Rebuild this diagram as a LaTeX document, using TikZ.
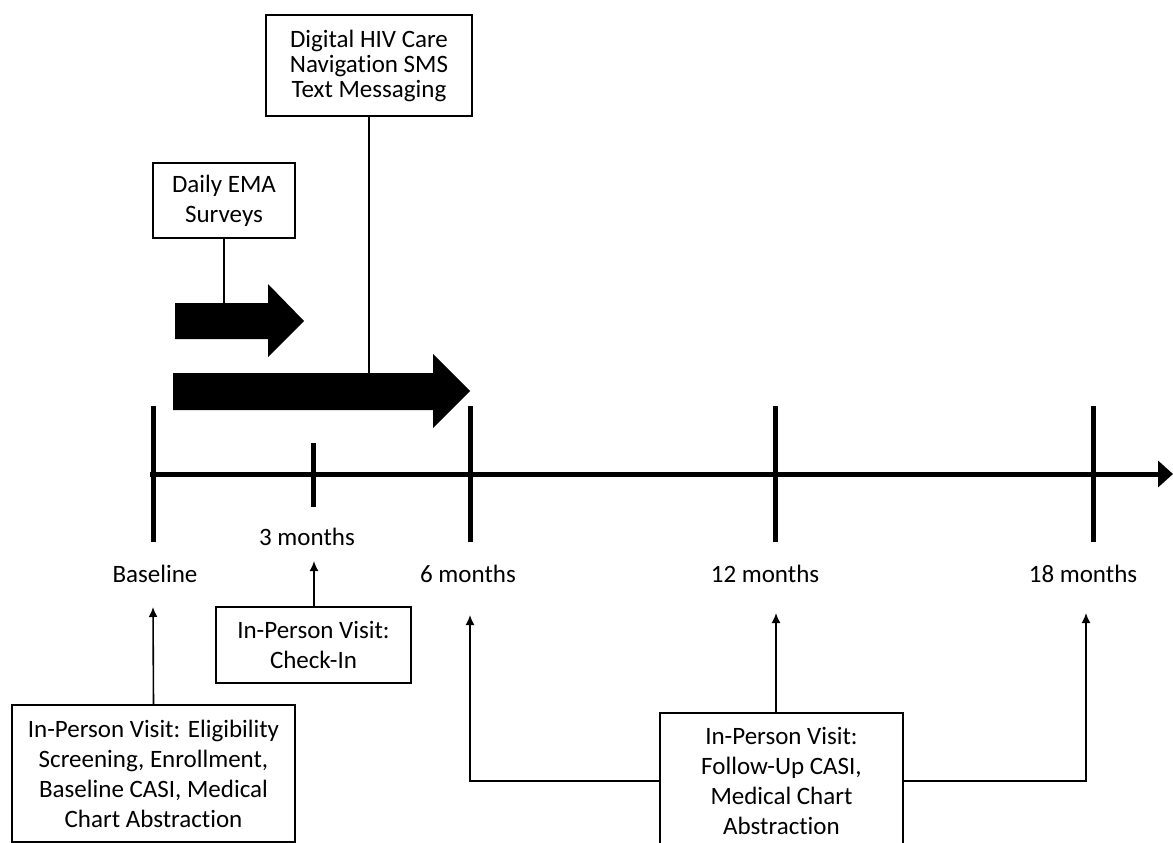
\documentclass[tikz,border=0pt]{standalone}
\usepackage{fontspec}
\setmainfont{Carlito}[Ligatures=NoCommon]
\usetikzlibrary{arrows.meta}
\tikzset{
  box/.style={draw=black, line width=1.5pt, inner sep=0pt, align=center, font=\fontsize{25}{30}\selectfont},
  lbl/.style={inner sep=0pt, anchor=base, font=\fontsize{25}{30}\selectfont},
  conn/.style={line width=1.6pt, -{Latex[length=10pt,width=9pt]}},
  plain/.style={line width=1.6pt},
  tick/.style={line width=5pt},
  blockarrow/.style={fill=black, draw=none}
}
\begin{document}
\begin{tikzpicture}[x=1pt,y=-1pt]
\useasboundingbox (0,0) rectangle (1173,843);
% timeline
\coordinate (a0) at (150,474);
\coordinate (a1) at (1173,474);
\draw[line width=5pt, -{Triangle[length=15pt,width=26pt]}] (a0) -- (a1);
\draw[tick] (153,406) -- (153,542);
\draw[tick] (313,443) -- (313,507);
\draw[tick] (470,406) -- (470,542);
\draw[tick] (775,406) -- (775,542);
\draw[tick] (1093,406) -- (1093,542);
% block arrows
\fill[blockarrow] (175,303) -- (268,303) -- (268,284) -- (304,321) -- (268,357) -- (268,339) -- (175,339) -- cycle;
\fill[blockarrow] (173,373) -- (433,373) -- (433,354) -- (470,391) -- (433,428) -- (433,410) -- (173,410) -- cycle;
\coordinate (emaT) at (224,303);
\coordinate (digT) at (369,373);
% top boxes
\node[box, minimum width=142, minimum height=75] (ema) at (224,200.5) {Daily EMA\\Surveys};
\node[box, minimum width=206, minimum height=101, font=\fontsize{25}{25}\selectfont] (dig) at (369,65.5) {Digital HIV Care\\Navigation SMS\\Text Messaging};
\draw[plain] (ema.south) -- (emaT);
\draw[plain] (dig.south) -- (digT);
% labels
\node[lbl] (l0) at (155,582) {Baseline};
\node[lbl] (l3) at (307,545) {3 months};
\node[lbl] (l6) at (468,582) {6 months};
\node[lbl] (l12) at (765,582) {12 months};
\node[lbl] (l18) at (1083,582) {18 months};
% bottom boxes
\node[box, minimum width=283, minimum height=137] (bl) at (153.5,773.5) {In-Person Visit: Eligibility\\Screening, Enrollment,\\Baseline CASI, Medical\\Chart Abstraction};
\node[box, minimum width=195, minimum height=76] (ci) at (313.5,645) {In-Person Visit:\\Check-In};
\node[box, minimum width=243, minimum height=136] (fu) at (781.5,781) {In-Person Visit:\\Follow-Up CASI,\\Medical Chart\\Abstraction};
\coordinate (t0) at (153,607);
\coordinate (t3) at (314,561);
\coordinate (t6) at (470,615);
\coordinate (t12) at (776,613);
\coordinate (t18) at (1086,613);
\draw[conn] (bl.north) -- (t0);
\draw[conn] (ci.north -| t3) -- (t3);
\draw[conn] (fu.west) -| (t6);
\draw[conn] (fu.north -| t12) -- (t12);
\draw[conn] (fu.east) -| (t18);
\end{tikzpicture}
\end{document}
